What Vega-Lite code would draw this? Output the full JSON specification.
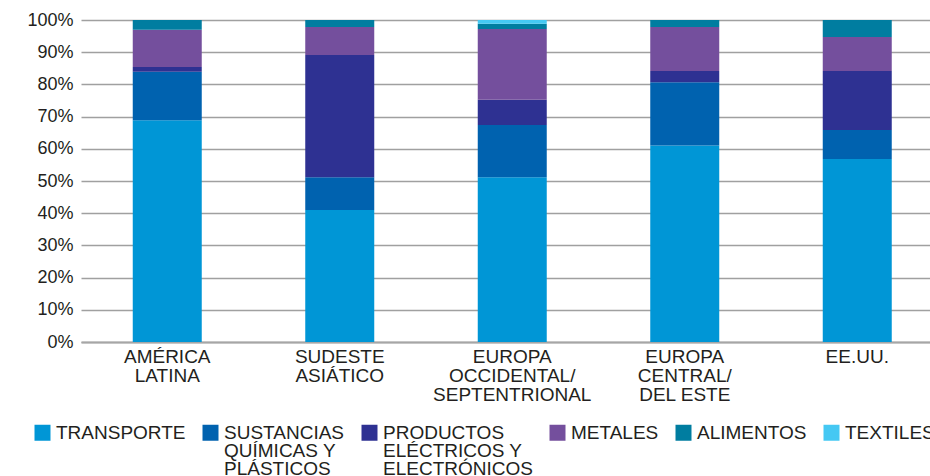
{
  "$schema": "https://vega.github.io/schema/vega-lite/v6.json",
  "width": 849,
  "height": 322,
  "autosize": {"type": "none"},
  "padding": {"left": 81, "top": 20, "right": 0, "bottom": 134},
  "background": "white",
  "config": {
    "view": {"stroke": null},
    "font": "Liberation Sans",
    "style": {"guide-label": {"lineHeight": 18}}
  },
  "data": {
    "values": [
      {"region": "AMÉRICA|LATINA", "sector": "TRANSPORTE", "k": 1, "value": 68.9},
      {"region": "AMÉRICA|LATINA", "sector": "SUSTANCIAS|QUÍMICAS Y|PLÁSTICOS", "k": 2, "value": 15.0},
      {"region": "AMÉRICA|LATINA", "sector": "PRODUCTOS|ELÉCTRICOS Y|ELECTRÓNICOS", "k": 3, "value": 1.5},
      {"region": "AMÉRICA|LATINA", "sector": "METALES", "k": 4, "value": 11.6},
      {"region": "AMÉRICA|LATINA", "sector": "ALIMENTOS", "k": 5, "value": 3.0},
      {"region": "AMÉRICA|LATINA", "sector": "TEXTILES", "k": 6, "value": 0.0},
      {"region": "SUDESTE|ASIÁTICO", "sector": "TRANSPORTE", "k": 1, "value": 41.0},
      {"region": "SUDESTE|ASIÁTICO", "sector": "SUSTANCIAS|QUÍMICAS Y|PLÁSTICOS", "k": 2, "value": 10.2},
      {"region": "SUDESTE|ASIÁTICO", "sector": "PRODUCTOS|ELÉCTRICOS Y|ELECTRÓNICOS", "k": 3, "value": 37.9},
      {"region": "SUDESTE|ASIÁTICO", "sector": "METALES", "k": 4, "value": 8.7},
      {"region": "SUDESTE|ASIÁTICO", "sector": "ALIMENTOS", "k": 5, "value": 2.2},
      {"region": "SUDESTE|ASIÁTICO", "sector": "TEXTILES", "k": 6, "value": 0.0},
      {"region": "EUROPA|OCCIDENTAL/|SEPTENTRIONAL", "sector": "TRANSPORTE", "k": 1, "value": 51.2},
      {"region": "EUROPA|OCCIDENTAL/|SEPTENTRIONAL", "sector": "SUSTANCIAS|QUÍMICAS Y|PLÁSTICOS", "k": 2, "value": 16.2},
      {"region": "EUROPA|OCCIDENTAL/|SEPTENTRIONAL", "sector": "PRODUCTOS|ELÉCTRICOS Y|ELECTRÓNICOS", "k": 3, "value": 7.8},
      {"region": "EUROPA|OCCIDENTAL/|SEPTENTRIONAL", "sector": "METALES", "k": 4, "value": 22.0},
      {"region": "EUROPA|OCCIDENTAL/|SEPTENTRIONAL", "sector": "ALIMENTOS", "k": 5, "value": 1.6},
      {"region": "EUROPA|OCCIDENTAL/|SEPTENTRIONAL", "sector": "TEXTILES", "k": 6, "value": 1.2},
      {"region": "EUROPA|CENTRAL/|DEL ESTE", "sector": "TRANSPORTE", "k": 1, "value": 61.0},
      {"region": "EUROPA|CENTRAL/|DEL ESTE", "sector": "SUSTANCIAS|QUÍMICAS Y|PLÁSTICOS", "k": 2, "value": 19.7},
      {"region": "EUROPA|CENTRAL/|DEL ESTE", "sector": "PRODUCTOS|ELÉCTRICOS Y|ELECTRÓNICOS", "k": 3, "value": 3.5},
      {"region": "EUROPA|CENTRAL/|DEL ESTE", "sector": "METALES", "k": 4, "value": 13.6},
      {"region": "EUROPA|CENTRAL/|DEL ESTE", "sector": "ALIMENTOS", "k": 5, "value": 2.2},
      {"region": "EUROPA|CENTRAL/|DEL ESTE", "sector": "TEXTILES", "k": 6, "value": 0.0},
      {"region": "EE.UU.", "sector": "TRANSPORTE", "k": 1, "value": 56.8},
      {"region": "EE.UU.", "sector": "SUSTANCIAS|QUÍMICAS Y|PLÁSTICOS", "k": 2, "value": 9.0},
      {"region": "EE.UU.", "sector": "PRODUCTOS|ELÉCTRICOS Y|ELECTRÓNICOS", "k": 3, "value": 18.4},
      {"region": "EE.UU.", "sector": "METALES", "k": 4, "value": 10.5},
      {"region": "EE.UU.", "sector": "ALIMENTOS", "k": 5, "value": 5.3},
      {"region": "EE.UU.", "sector": "TEXTILES", "k": 6, "value": 0.0}
    ]
  },
  "mark": {"type": "bar"},
  "encoding": {
    "x": {
      "field": "region",
      "type": "nominal",
      "sort": null,
      "scale": {"range": [0, 862.5], "paddingInner": 0.6, "paddingOuter": 0.3},
      "axis": {
        "title": null,
        "labelAngle": 0,
        "labelExpr": "split(datum.label, '|')",
        "labelFontSize": 19,
        "labelColor": "#231F20",
        "labelLineHeight": 19,
        "labelPadding": 5,
        "labelBaseline": "top",
        "ticks": false,
        "domain": true,
        "domainColor": "#A6A6A6",
        "domainWidth": 2,
        "labelLimit": 300
      }
    },
    "y": {
      "field": "value",
      "type": "quantitative",
      "stack": "normalize",
      "scale": {"domain": [0, 1]},
      "axis": {
        "title": null,
        "format": ".0%",
        "values": [0, 0.1, 0.2, 0.3, 0.4, 0.5, 0.6, 0.7, 0.8, 0.9, 1],
        "labelFontSize": 18,
        "labelColor": "#231F20",
        "labelPadding": 8,
        "ticks": false,
        "domain": false,
        "grid": true,
        "gridColor": "#A0A0A0",
        "gridWidth": 1.5
      }
    },
    "order": {"field": "k", "type": "quantitative", "sort": "ascending"},
    "color": {
      "field": "sector",
      "type": "nominal",
      "sort": ["TRANSPORTE", "SUSTANCIAS|QUÍMICAS Y|PLÁSTICOS", "PRODUCTOS|ELÉCTRICOS Y|ELECTRÓNICOS", "METALES", "ALIMENTOS", "TEXTILES"],
      "scale": {
        "domain": ["TRANSPORTE", "SUSTANCIAS|QUÍMICAS Y|PLÁSTICOS", "PRODUCTOS|ELÉCTRICOS Y|ELECTRÓNICOS", "METALES", "ALIMENTOS", "TEXTILES"],
        "range": ["#0096D6", "#0062AF", "#2E3192", "#744F9D", "#007DA0", "#45C8F3"]
      },
      "legend": {
        "title": null,
        "orient": "none",
        "legendX": -48,
        "legendY": 394,
        "direction": "horizontal",
        "columns": 6,
        "columnPadding": 15,
        "symbolType": "M-1,0.125H1V2.125H-1Z",
        "symbolSize": 256,
        "symbolStrokeWidth": 0,
        "labelExpr": "length(split(datum.label, '|')) == 1 ? [datum.label, ' ', ' '] : split(datum.label, '|')",
        "labelFontSize": 19,
        "labelColor": "#231F20",
        "labelOffset": 4,
        "labelBaseline": "top",
        "labelLimit": 300
      }
    }
  }
}
